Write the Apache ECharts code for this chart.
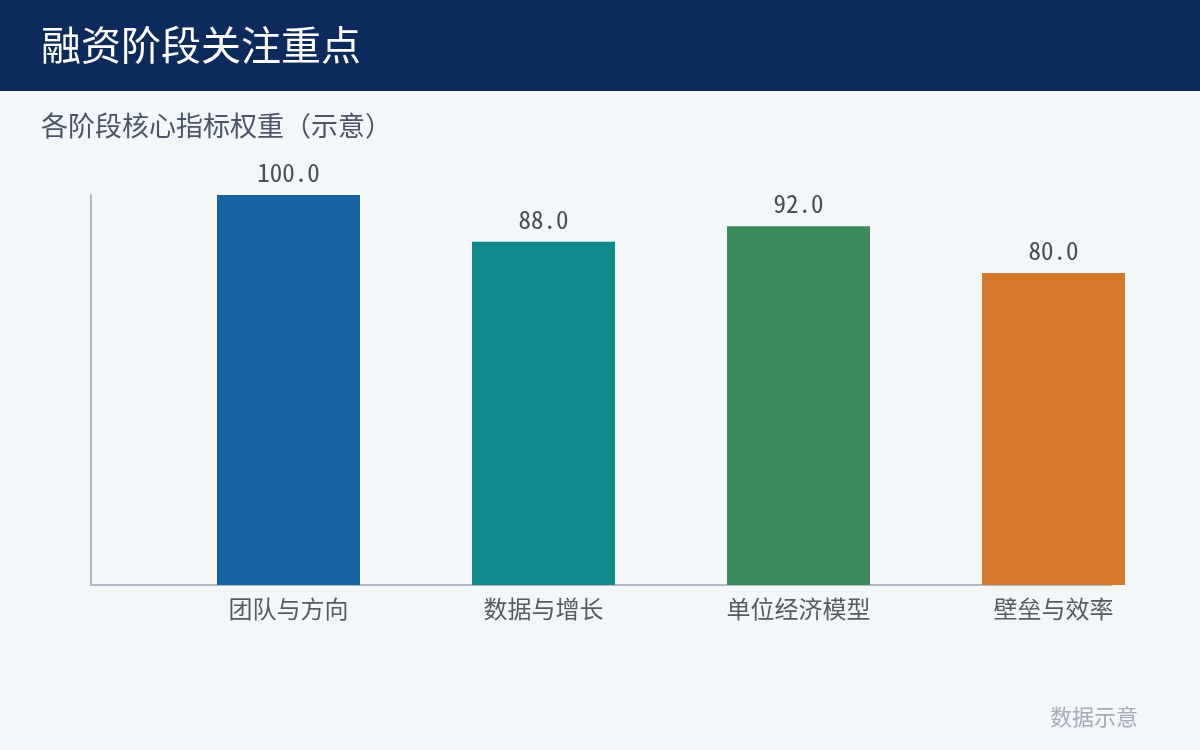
<!DOCTYPE html>
<html><head><meta charset="utf-8">
<script src="https://cdn.jsdelivr.net/npm/echarts@6/dist/echarts.min.js"></script>
<style>html,body{margin:0;padding:0;background:#f4f7fa;}#c{width:1200px;height:750px;}</style>
</head><body><div id="c"></div>
<script>
const categories = ['团队与方向', '数据与增长', '单位经济模型', '壁垒与效率'];
const values = [100, 88, 92, 80];
const barColors = ['#1662a2', '#118a8e', '#3a8a5a', '#d6782a'];
const titleText = '融资阶段关注重点';
const subtitleText = '各阶段核心指标权重（示意）';
const noteText = '数据示意';

const FONT = '"Noto Sans CJK SC", "Noto Sans", sans-serif';
const MONO = '"Noto Sans Mono CJK SC", "Noto Sans CJK SC", sans-serif';
const chart = echarts.init(document.getElementById('c'), null, {renderer: 'canvas'});
chart.setOption({
  backgroundColor: '#f4f7fa',
  textStyle: {fontFamily: FONT},
  graphic: [
    {type: 'rect', left: 0, top: 0, shape: {width: 1200, height: 91}, style: {fill: '#0c2a5b'}, z: 0},
    {type: 'text', left: 41, top: 25, style: {text: titleText, fill: '#ffffff', font: '40px ' + FONT}, z: 1},
    {type: 'text', left: 41, top: 112, style: {text: subtitleText, fill: '#4a5566', font: '27px ' + FONT}, z: 1},
    {type: 'text', right: 62, top: 706, style: {text: noteText, fill: '#a3acb8', font: '22px ' + FONT}, z: 1}
  ],
  grid: [
    {left: 161, top: 195, width: 1020, height: 390},
    {left: 91, top: 195, width: 1020, height: 390}
  ],
  xAxis: [
    {type: 'category', gridIndex: 0, data: categories,
     axisLine: {show: false}, axisTick: {show: false},
     axisLabel: {color: '#555b63', fontSize: 24, margin: 12, fontFamily: FONT}},
    {type: 'category', gridIndex: 1, data: categories,
     axisLine: {show: true, lineStyle: {color: '#b0bac6', width: 2}}, axisTick: {show: false},
     axisLabel: {show: false}}
  ],
  yAxis: [
    {type: 'value', gridIndex: 0, min: 0, max: 100, show: false, splitLine: {show: false}},
    {type: 'value', gridIndex: 1, min: 0, max: 100, axisLine: {show: true, lineStyle: {color: '#b0bac6', width: 2}},
     axisTick: {show: false}, axisLabel: {show: false}, splitLine: {show: false}}
  ],
  series: [{
    type: 'bar', xAxisIndex: 0, yAxisIndex: 0,
    data: values.map((v, i) => ({value: v, itemStyle: {color: barColors[i]}})),
    barWidth: 143,
    label: {show: true, position: 'top', distance: 10, color: '#4a4d52', fontSize: 25, fontFamily: MONO,
      formatter: p => p.value.toFixed(1)},
    z: 3
  }]
});
</script></body></html>
